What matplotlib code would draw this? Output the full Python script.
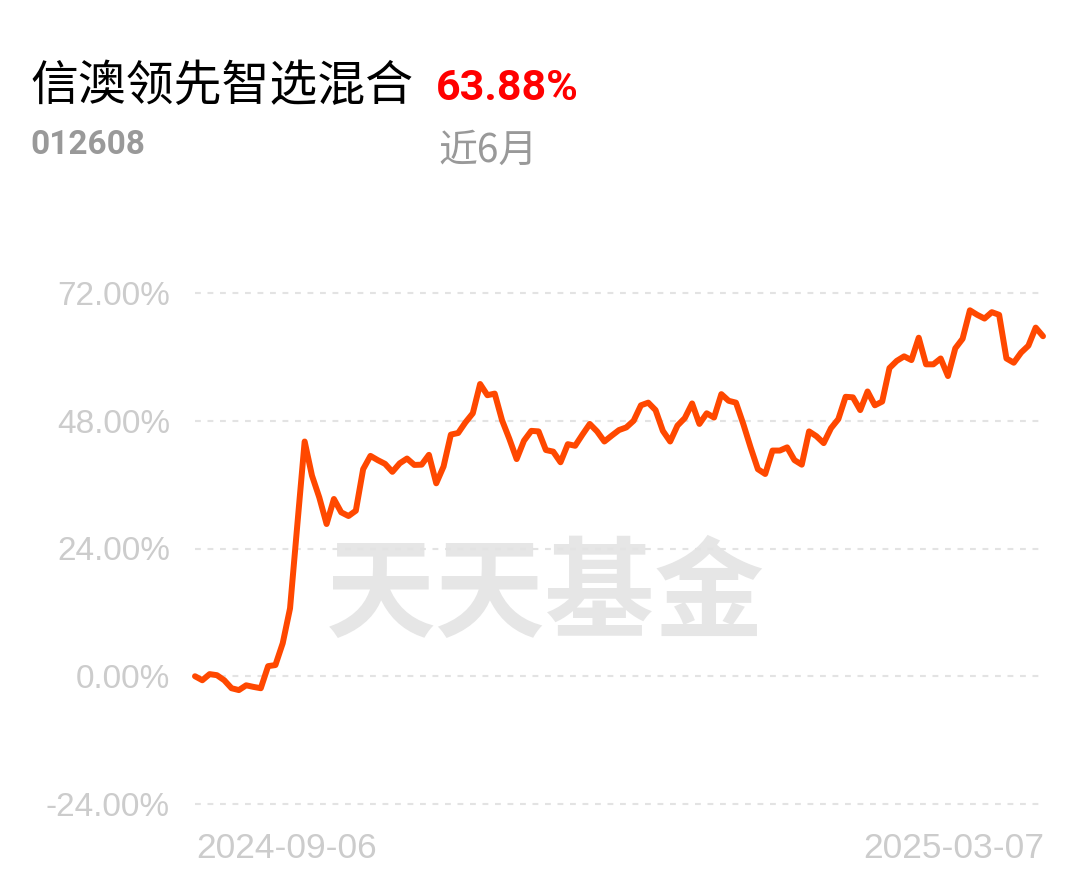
import matplotlib
matplotlib.use("Agg")
import matplotlib.pyplot as plt
import numpy as np

# ---- data ----
title_name = "信澳领先智选混合"
fund_code = "012608"
period_return = "63.88%"
period_label = "近6月"
watermark = "天天基金"
start_date = "2024-09-06"
end_date = "2025-03-07"
y_ticks = [-24, 0, 24, 48, 72]
y_tick_labels = ["-24.00%", "0.00%", "24.00%", "48.00%", "72.00%"]

returns = [
    0.0, -0.75, 0.4, 0.2, -0.75, -2.25, -2.6, -1.7, -2.0, -2.25,
    1.9, 2.1, 6.2, 12.75, 28.5, 44.1, 37.7, 33.6, 28.6, 33.3,
    30.8, 30.1, 31.1, 38.9, 41.4, 40.6, 39.9, 38.4, 40.0, 40.9,
    39.7, 39.75, 41.6, 36.25, 39.4, 45.4, 45.7, 47.7, 49.4, 54.9,
    52.8, 53.1, 48.1, 44.6, 40.8, 44.25, 46.1, 46.0, 42.5, 42.2,
    40.2, 43.6, 43.3, 45.4, 47.4, 46.0, 44.1, 45.2, 46.25, 46.75,
    48.0, 50.9, 51.4, 50.0, 46.1, 44.1, 47.1, 48.5, 51.25, 47.4,
    49.4, 48.6, 53.0, 51.75, 51.4, 47.4, 43.0, 38.9, 38.0, 42.4,
    42.4, 43.0, 40.6, 39.75, 46.0, 45.1, 43.8, 46.6, 48.3, 52.5,
    52.4, 50.0, 53.5, 50.9, 51.6, 57.9, 59.25, 60.1, 59.4, 63.6,
    58.6, 58.6, 59.7, 56.4, 61.6, 63.4, 68.75, 67.9, 67.2, 68.4,
    67.9, 59.7, 58.9, 60.8, 62.1, 65.5, 63.88,
]

W, H = 1089, 881
fig = plt.figure(figsize=(W / 100, H / 100), dpi=100)
fig.patch.set_facecolor("white")

left, right = 195 / W, 1043 / W
top, bottom = 1 - 293 / H, 1 - 804 / H
ax = fig.add_axes([left, bottom, right - left, top - bottom])

x = np.arange(len(returns))
ax.set_xlim(0, len(returns) - 1)
ax.set_ylim(-24, 72)

# gridlines
for yv in y_ticks:
    ax.axhline(yv, color="#e3e3e3", lw=1.5, dashes=(2.8, 3.2), zorder=1, clip_on=False)

# watermark
ax.text(0.413, 0.405, watermark, transform=ax.transAxes, ha="center", va="center",
        fontsize=79, fontweight="bold", color="#e6e6e6",
        family=["Noto Sans CJK SC", "DejaVu Sans"], zorder=0)

ax.plot(x, returns, color="#FF4800", lw=4.3, solid_joinstyle="round",
        solid_capstyle="round", zorder=3, clip_on=False)

for s in ax.spines.values():
    s.set_visible(False)
ax.set_xticks([])
ax.set_yticks(y_ticks)
ax.set_yticklabels(y_tick_labels)
ax.tick_params(axis="y", length=0, pad=18, labelsize=24, labelcolor="#cccccc")
for lab in ax.get_yticklabels():
    lab.set_family(["Liberation Sans", "DejaVu Sans"])

# date labels
fig.text(196 / W, 1 - 849 / H, start_date, ha="left", va="center", fontsize=25.5,
         color="#cccccc", family=["Liberation Sans", "DejaVu Sans"])
fig.text(1044 / W, 1 - 849 / H, end_date, ha="right", va="center", fontsize=25.5,
         color="#cccccc", family=["Liberation Sans", "DejaVu Sans"])

# header
fig.text(30 / W, 1 - 86 / H, title_name, ha="left", va="center", fontsize=34.5,
         color="black", family=["Noto Sans CJK SC", "DejaVu Sans"])
fig.text(436 / W, 1 - 89 / H, period_return, ha="left", va="center", fontsize=31,
         color="#ff0000", fontweight="bold", family=["Roboto", "DejaVu Sans"])
fig.text(30 / W, 1 - 145 / H, fund_code, ha="left", va="center", fontsize=24,
         color="#999999", fontweight="bold", family=["Roboto", "DejaVu Sans"])
fig.text(438 / W, 1 - 151 / H, period_label, ha="left", va="center", fontsize=28,
         color="#999999", family=["Noto Sans CJK SC", "DejaVu Sans"])

fig.savefig("out.png", dpi=100, facecolor="white")
